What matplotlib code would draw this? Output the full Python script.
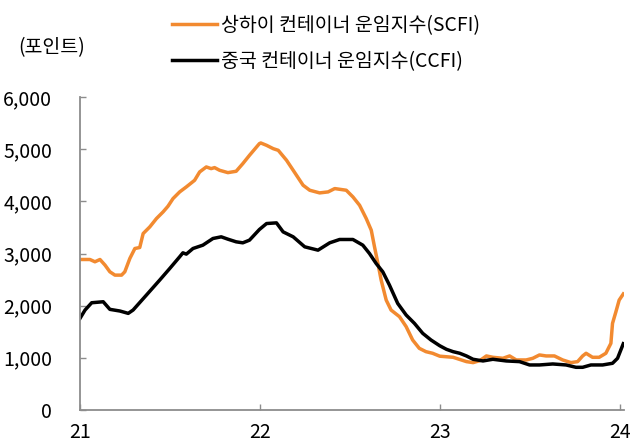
import matplotlib
matplotlib.use("Agg")
import matplotlib.pyplot as plt
from matplotlib.ticker import FuncFormatter

# x positions in decimal years (21.5 = mid-2021)
scfi_x = [21.000, 21.055, 21.083, 21.111, 21.139, 21.166, 21.194, 21.231, 21.249, 21.277,
          21.305, 21.332, 21.351, 21.388, 21.425, 21.462, 21.489, 21.517, 21.554, 21.591,
          21.637, 21.665, 21.702, 21.729, 21.748, 21.776, 21.822, 21.868, 21.905, 21.942,
          21.997, 22.005, 22.037, 22.074, 22.102, 22.148, 22.185, 22.240, 22.277, 22.332,
          22.379, 22.416, 22.480, 22.517, 22.554, 22.591, 22.619, 22.637, 22.656, 22.674,
          22.702, 22.729, 22.776, 22.813, 22.849, 22.886, 22.923, 22.960, 23.000, 23.074,
          23.148, 23.185, 23.222, 23.259, 23.295, 23.351, 23.388, 23.425, 23.480, 23.517,
          23.554, 23.591, 23.637, 23.683, 23.729, 23.766, 23.794, 23.813, 23.849, 23.886,
          23.923, 23.951, 23.960, 23.979, 23.997, 24.020]
scfi = [2886, 2886, 2842, 2886, 2778, 2650, 2586, 2586, 2650, 2906,
        3097, 3116, 3384, 3512, 3672, 3800, 3908, 4055, 4183, 4279,
        4406, 4566, 4662, 4630, 4649, 4598, 4553, 4579, 4726, 4885,
        5109, 5122, 5077, 5013, 4981, 4790, 4598, 4311, 4215, 4164,
        4183, 4247, 4215, 4087, 3927, 3672, 3448, 3129, 2810, 2491,
        2107, 1916, 1788, 1597, 1341, 1181, 1117, 1086, 1030, 1009,
        926, 907, 945, 1035, 1009, 990, 1035, 958, 958, 990,
        1054, 1035, 1035, 958, 907, 926, 1035, 1086, 1009, 1009,
        1086, 1277, 1660, 1884, 2107, 2225]

ccfi_x = [21.000, 21.028, 21.065, 21.129, 21.166, 21.222, 21.268, 21.295, 21.369, 21.443,
          21.499, 21.554, 21.572, 21.591, 21.628, 21.683, 21.739, 21.785, 21.822, 21.868,
          21.905, 21.942, 21.997, 22.037, 22.092, 22.129, 22.185, 22.249, 22.323, 22.388,
          22.443, 22.517, 22.572, 22.609, 22.646, 22.683, 22.720, 22.766, 22.813, 22.859,
          22.905, 22.951, 23.000, 23.037, 23.074, 23.111, 23.148, 23.185, 23.240, 23.295,
          23.369, 23.443, 23.499, 23.554, 23.628, 23.702, 23.757, 23.794, 23.840, 23.905,
          23.960, 23.988, 24.020]
ccfi = [1756, 1916, 2056, 2075, 1929, 1897, 1852, 1916, 2203, 2491,
        2714, 2938, 3014, 2989, 3097, 3161, 3289, 3321, 3276, 3225,
        3206, 3257, 3461, 3576, 3589, 3416, 3321, 3129, 3065, 3206,
        3270, 3270, 3161, 3001, 2810, 2650, 2395, 2043, 1820, 1660,
        1469, 1341, 1230, 1162, 1117, 1086, 1035, 971, 939, 971,
        939, 926, 862, 862, 881, 862, 817, 817, 862, 862,
        894, 990, 1270]

year_ticks = [21, 22, 23, 24]
year_labels = ["21", "22", "23", "24"]
y_ticks = [0, 1000, 2000, 3000, 4000, 5000, 6000]

plt.rcParams['font.family'] = ['Liberation Sans Narrow', 'Noto Sans CJK KR', 'DejaVu Sans']

fig = plt.figure(figsize=(6.35, 4.46), dpi=100)
ax = fig.add_axes([0.126, 0.081, 0.857, 0.701])

ax.plot(scfi_x, scfi, color="#F28A30", lw=2.5, label="상하이 컨테이너 운임지수(SCFI)")
ax.plot(ccfi_x, ccfi, color="black", lw=2.5, label="중국 컨테이너 운임지수(CCFI)")

ax.set_xlim(21, 24.025)
ax.set_ylim(0, 6000)
ax.set_xticks(year_ticks)
ax.set_xticklabels(year_labels)
ax.set_yticks(y_ticks)
ax.yaxis.set_major_formatter(FuncFormatter(lambda v, p: f"{int(v):,}"))

for s in ["top", "right"]:
    ax.spines[s].set_visible(False)
for s in ["left", "bottom"]:
    ax.spines[s].set_color("#8c8c8c")
    ax.spines[s].set_linewidth(1.3)
ax.tick_params(axis="both", direction="in", length=4, width=1, color="#8c8c8c",
               labelsize=14, labelcolor="black")
ax.tick_params(axis="y", pad=20)
ax.tick_params(axis="x", pad=9)

fig.text(0.028, 0.893, "(포인트)", fontsize=14, va="center", ha="left",
         family=['Noto Sans CJK KR', 'DejaVu Sans'])

fig.legend(loc="upper left", bbox_to_anchor=(0.243, 1.005), frameon=False,
           handlelength=2.3, handletextpad=0.25, labelspacing=0.75,
           prop={'family': ['Noto Sans CJK KR', 'DejaVu Sans'], 'size': 14})

fig.savefig("out.png", dpi=100)
